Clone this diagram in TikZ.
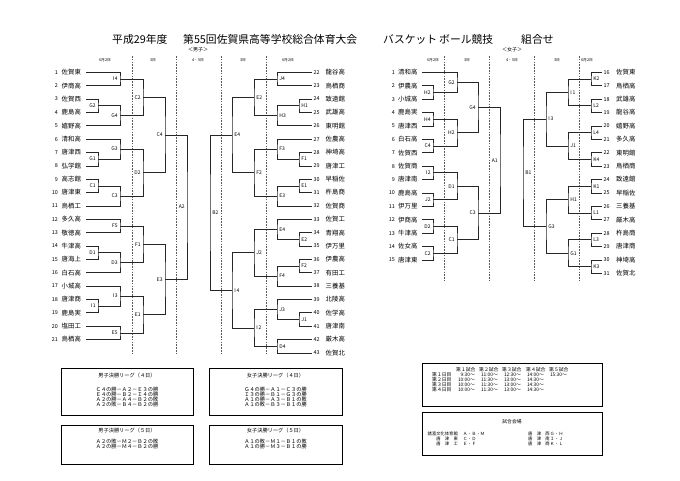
\documentclass[tikz,border=0pt]{standalone}
\usepackage{fontspec}
\setmainfont{Noto Sans CJK JP}
\usetikzlibrary{calc}
\tikzset{
  brk/.style={line width=0.6pt, draw=black!85},
  vgrid/.style={draw=black!65, line width=0.45pt, dash pattern=on 1.6pt off 1.2pt},
  tname/.style={inner sep=0pt, font=\fontsize{6.4}{7}\selectfont},
  tnum/.style={inner sep=0pt, font=\fontsize{5.4}{6}\selectfont},
  lab/.style={inner sep=0pt, font=\fontsize{5}{5.5}\selectfont},
  hdr/.style={inner sep=0pt, font=\fontsize{3.8}{4}\selectfont},
  sect/.style={inner sep=0pt, font=\fontsize{5}{5.5}\selectfont},
  ttl/.style={inner sep=0pt, anchor=west, font=\fontsize{10.8}{12}\selectfont},
  boxa/.style={draw=black, line width=1pt, inner sep=0pt, anchor=north west},
  boxb/.style={draw=black, line width=0.8pt, inner sep=0pt, anchor=north west},
  btxt/.style={inner sep=0pt, align=center, font=\fontsize{5.2}{4.95}\selectfont},
  stx/.style={inner sep=0pt, font=\fontsize{4.8}{5}\selectfont},
  vtx/.style={inner sep=0pt, font=\fontsize{4.3}{5}\selectfont},
}
\newcommand\mL[5]{%
  \path let \p1=($(#3)!0.5!(#4)$) in coordinate (#1) at (#2pt,\y1);
  \draw[brk] (#3) -| (#1) |- (#4);
  \node[lab,anchor=east] (#1l) at ([xshift=-2.2pt]#1) {#5};
}
\newcommand\mR[5]{%
  \path let \p1=($(#3)!0.5!(#4)$) in coordinate (#1) at (#2pt,\y1);
  \draw[brk] (#3) -| (#1) |- (#4);
  \node[lab,anchor=west] (#1l) at ([xshift=2.2pt]#1) {#5};
}
\begin{document}
\begin{tikzpicture}[x=1pt,y=-1pt]
\fill[white] (0,0) rectangle (680,481);
\useasboundingbox (0,0) rectangle (680,481);

% title
\node[ttl] (t1) at (112,39) {平成29年度};
\node[ttl] (t2) at (183,39) {第55回佐賀県高等学校総合体育大会};
\node[ttl] (t3) at (383,39) {バスケット\hspace{2pt}ボール競技};
\node[ttl] (t4) at (521,39) {組合せ};

\node[sect] (sb) at (198,50) {＜男子＞};
\node[sect] (sg) at (512,50) {＜女子＞};

% headers
\foreach \h/\xx [count=\c] in {6月2日/105,3日/153,4・5日/198,3日/243,6月2日/288}
  \node[hdr] (hb\c) at (\xx,60) {\h};
\foreach \h/\xx [count=\c] in {6月2日/433,3日/467,4・5日/512,3日/557,6月2日/587}
  \node[hdr] (hg\c) at (\xx,60) {\h};

% dashed day separators
\foreach \xx in {132,176,221,266} \draw[vgrid] (\xx,56) -- (\xx,355);
\foreach \xx in {444,489,534,579} \draw[vgrid] (\xx,56) -- (\xx,281);

% boys left teams
\foreach \nm [count=\i] in {佐賀東,伊商高,佐賀西,鹿島高,嬉野高,清和高,唐津西,弘学館,高志館,唐津東,鳥栖工,多久高,敬徳高,牛津高,唐海上,白石高,小城高,唐津商,鹿島実,塩田工,鳥栖高}{
  \pgfmathsetmacro\yy{72.3+(\i-1)*13.36}
  \coordinate (bl\i) at (86,\yy);
  \node[tnum,anchor=east] (bln\i) at (58,\yy) {\i};
  \node[tname,anchor=west] (blt\i) at (61.5,\yy) {\nm};
}
% boys right teams
\foreach \nm [count=\i from 22] in {龍谷高,鳥栖商,致遠館,武雄高,東明館,佐農高,神埼高,唐津工,早稲佐,杵島商,佐賀商,佐賀工,青翔高,伊万里,伊農高,有田工,三養基,北陵高,佐学高,唐津南,厳木高,佐賀北}{
  \pgfmathsetmacro\yy{72.3+(\i-22)*13.36}
  \coordinate (br\i) at (312,\yy);
  \node[tnum,anchor=west] (brn\i) at (313.5,\yy) {\i};
  \node[tname,anchor=west] (brt\i) at (325.5,\yy) {\nm};
}
% girls left teams
\foreach \nm [count=\i] in {清和高,伊農高,小城高,鹿島実,唐津西,白石高,佐賀西,佐賀商,唐津南,鹿島高,伊万里,伊商高,牛津高,佐女高,唐津東}{
  \pgfmathsetmacro\yy{72.3+(\i-1)*13.4}
  \coordinate (gl\i) at (422,\yy);
  \node[tnum,anchor=east] (gln\i) at (395,\yy) {\i};
  \node[tname,anchor=west] (glt\i) at (398,\yy) {\nm};
}
% girls right teams
\foreach \nm [count=\i from 16] in {佐賀東,鳥栖高,武雄高,龍谷高,嬉野高,多久高,東明館,鳥栖商,致遠館,早稲佐,三養基,厳木高,杵島商,唐津商,神埼高,佐賀北}{
  \pgfmathsetmacro\yy{72.3+(\i-16)*13.4}
  \coordinate (gr\i) at (602,\yy);
  \node[tnum,anchor=west] (grn\i) at (603.5,\yy) {\i};
  \node[tname,anchor=west] (grt\i) at (616,\yy) {\nm};
}

% boys left bracket
\mL{bIf}{120}{bl1}{bl2}{I\,4}
\mL{bGb}{98}{bl3}{bl4}{G2}
\mL{bGd}{120}{bGb}{bl5}{G4}
\mL{bCb}{143}{bIf}{bGd}{C2}
\mL{bGa}{98}{bl7}{bl8}{G1}
\mL{bGc}{120}{bl6}{bGa}{G3}
\mL{bCa}{98}{bl9}{bl10}{C1}
\mL{bCc}{120}{bCa}{bl11}{C3}
\mL{bDb}{143}{bGc}{bCc}{D2}
\mL{bCd}{165}{bCb}{bDb}{C4}
\mL{bFe}{120}{bl12}{bl13}{F5}
\mL{bDa}{98}{bl14}{bl15}{D1}
\mL{bDc}{120}{bDa}{bl16}{D3}
\mL{bFa}{143}{bFe}{bDc}{F1}
\mL{bIa}{98}{bl18}{bl19}{I\,1}
\mL{bIc}{120}{bl17}{bIa}{I\,3}
\mL{bEe}{120}{bl20}{bl21}{E5}
\mL{bEa}{143}{bIc}{bEe}{E1}
\mL{bEc}{165}{bFa}{bEa}{E3}
\mL{bAb}{187}{bCd}{bEc}{A2}

% boys right bracket
\mR{rJd}{277}{br22}{br23}{J4}
\mR{rHa}{299}{br24}{br25}{H1}
\mR{rHc}{277}{rHa}{br26}{H3}
\mR{rEb}{254}{rJd}{rHc}{E2}
\mR{rFa}{299}{br28}{br29}{F1}
\mR{rFc}{277}{br27}{rFa}{F3}
\mR{rEa}{299}{br30}{br31}{E1}
\mR{rEc}{277}{rEa}{br32}{E3}
\mR{rFb}{254}{rFc}{rEc}{F2}
\mR{rEd}{232}{rEb}{rFb}{E4}
\mR{rEbb}{299}{br34}{br35}{E2}
\mR{rEdd}{277}{br33}{rEbb}{E4}
\mR{rFbb}{299}{br36}{br37}{F2}
\mR{rFd}{277}{rFbb}{br38}{F4}
\mR{rJb}{254}{rEdd}{rFd}{J2}
\mR{rJa}{299}{br40}{br41}{J1}
\mR{rJc}{277}{br39}{rJa}{J3}
\mR{rDd}{277}{br42}{br43}{D4}
\mR{rIb}{254}{rJc}{rDd}{I\,2}
\mR{rId}{232}{rJb}{rIb}{I\,4}
\mR{rBb}{210}{rEd}{rId}{B2}

% girls left bracket
\mL{gHba}{433}{gl2}{gl3}{H2}
\mL{gGb}{457}{gl1}{gHba}{G2}
\mL{gHd}{433}{gl4}{gl5}{H4}
\mL{gCd}{433}{gl6}{gl7}{C4}
\mL{gHbb}{457}{gHd}{gCd}{H2}
\mL{gGd}{478}{gGb}{gHbb}{G4}
\mL{gIb}{433}{gl8}{gl9}{I\,2}
\mL{gJb}{433}{gl10}{gl11}{J2}
\mL{gDa}{457}{gIb}{gJb}{D1}
\mL{gDb}{433}{gl12}{gl13}{D2}
\mL{gCb}{433}{gl14}{gl15}{C2}
\mL{gCa}{457}{gDb}{gCb}{C1}
\mL{gCc}{478}{gDa}{gCa}{C3}
\mL{gAa}{500}{gGd}{gCc}{A1}

% girls right bracket
\mR{gKb}{591}{gr16}{gr17}{K2}
\mR{gLb}{591}{gr18}{gr19}{L2}
\mR{gIa}{568}{gKb}{gLb}{I\,1}
\mR{gLd}{591}{gr20}{gr21}{L4}
\mR{gKd}{591}{gr22}{gr23}{K4}
\mR{gJa}{568}{gLd}{gKd}{J1}
\mR{gIc}{546}{gIa}{gJa}{I\,3}
\mR{gKa}{591}{gr24}{gr25}{K1}
\mR{gLa}{591}{gr26}{gr27}{L1}
\mR{gHa}{568}{gKa}{gLa}{H1}
\mR{gLc}{591}{gr28}{gr29}{L3}
\mR{gKc}{591}{gr30}{gr31}{K3}
\mR{gGa}{568}{gLc}{gKc}{G1}
\mR{gGc}{546}{gHa}{gGa}{G3}
\mR{gBa}{523}{gIc}{gGc}{B1}

% final league boxes
\node[boxa, minimum width=132pt, minimum height=47pt] (bx1) at (61,368) {};
\node[boxa, minimum width=133pt, minimum height=47pt] (bx2) at (209,368) {};
\node[boxa, minimum width=132pt, minimum height=39pt] (bx3) at (61,425) {};
\node[boxa, minimum width=133pt, minimum height=39pt] (bx4) at (209,425) {};
\node[btxt] (bx1t) at (127,376) {男子決勝リーグ（４日）};
\node[btxt] (bx1b) at (127,396.6) {Ｃ４の勝－Ａ２－Ｅ３の勝\\Ｅ４の勝－Ｂ２－Ｉ４の勝\\Ａ２の勝－Ａ４－Ｂ２の敗\\Ａ２の敗－Ｂ４－Ｂ２の勝};
\node[btxt] (bx2t) at (275.5,376) {女子決勝リーグ（４日）};
\node[btxt] (bx2b) at (275.5,396.6) {Ｇ４の勝－Ａ１－Ｃ３の勝\\Ｉ３の勝－Ｂ１－Ｇ３の勝\\Ａ１の勝－Ａ３－Ｂ１の敗\\Ａ１の敗－Ｂ３－Ｂ１の勝};
\node[btxt] (bx3t) at (127,431) {男子決勝リーグ（５日）};
\node[btxt] (bx3b) at (127,443.6) {Ａ２の敗－Ｍ２－Ｂ２の敗\\Ａ２の勝－Ｍ４－Ｂ２の勝};
\node[btxt] (bx4t) at (275.5,431) {女子決勝リーグ（５日）};
\node[btxt] (bx4b) at (275.5,443.6) {Ａ１の敗－Ｍ１－Ｂ１の敗\\Ａ１の勝－Ｍ３－Ｂ１の勝};

% schedule box
\node[boxb, minimum width=180pt, minimum height=43pt] (bx5) at (422,363) {};
\foreach \n/\xx [count=\c] in {１/456,２/479,３/502,４/526,５/549}
  \node[stx,anchor=west] (sh\c) at (\xx,370) {第\n 試合};
\foreach \r [count=\k] in {１,２,３,４}
  \node[stx,anchor=west] (sd\k) at (432,{370+5*\k}) {第\r 日目};
\foreach \t/\xx [count=\c] in {9:30〜/475,11:00〜/498,12:30〜/521,14:00〜/544,15:30〜/567}
  \node[stx,anchor=east] (sa\c) at (\xx,375) {\t};
\foreach \rw in {2,3,4}{
  \foreach \t/\xx [count=\c] in {10:00〜/475,11:30〜/498,13:00〜/521,14:30〜/544}
    \node[stx,anchor=east] (s\rw c\c) at (\xx,{370+5*\rw}) {\t};
}

% venue box
\node[boxb, minimum width=180pt, minimum height=43pt] (bx6) at (422,412) {};
\node[stx] (vt) at (512,422) {試合会場};
\foreach \a/\b/\cc/\d [count=\k] in {諸富文化体育館/Ａ・Ｂ・Ｍ/唐　津　西/Ｇ・Ｈ,唐　津　東/Ｃ・Ｄ/唐　津　南/Ｉ・Ｊ,唐　津　工/Ｅ・Ｆ/唐　津　商/Ｋ・Ｌ}{
  \pgfmathsetmacro\yy{429+5*\k}
  \node[vtx,anchor=east] (va\k) at (458,\yy) {\a};
  \node[vtx,anchor=west] (vb\k) at (463,\yy) {\b};
  \node[vtx,anchor=west] (vc\k) at (528,\yy) {\cc};
  \node[vtx,anchor=west] (vd\k) at (550,\yy) {\d};
}
\end{tikzpicture}
\end{document}
